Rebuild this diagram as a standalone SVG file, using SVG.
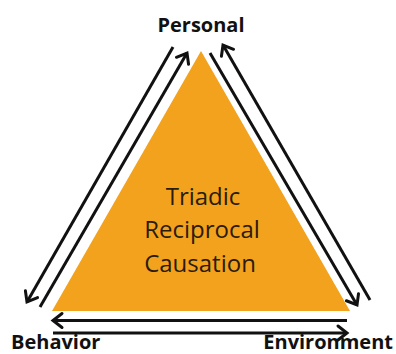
<svg xmlns="http://www.w3.org/2000/svg" width="396" height="354" viewBox="0 0 396 354">
  <defs>
    <marker id="arr" markerUnits="userSpaceOnUse" markerWidth="24" markerHeight="24" viewBox="-14 -12 20 24" refX="0" refY="0" orient="auto">
      <path d="M-9,-7 L0,0 L-9,7" fill="none" stroke="#111" stroke-width="3" stroke-linecap="round" stroke-linejoin="miter"/>
    </marker>
    <style>
      .lbl { font-family: "Open Sans", "Liberation Sans", sans-serif; font-weight: 700; font-size: 20px; fill: #111; }
      .mid { font-family: "Open Sans", "Liberation Sans", sans-serif; font-weight: 400; font-size: 24px; fill: #2a1c0c; text-anchor: middle; }
      .conn { stroke: #111; stroke-width: 3; fill: none; marker-end: url(#arr); }
    </style>
  </defs>
  <rect width="396" height="354" fill="#fff"/>
  <g id="triangle">
    <polygon points="201,51 52,311 350,311" fill="#F3A21D"/>
    <text class="mid" x="203" y="205">Triadic</text>
    <text class="mid" x="202" y="238">Reciprocal</text>
    <text class="mid" x="200" y="272">Causation</text>
  </g>
  <g id="personal">
    <text class="lbl" x="201" y="32" text-anchor="middle">Personal</text>
  </g>
  <g id="behavior">
    <text class="lbl" x="11" y="349">Behavior</text>
  </g>
  <g id="environment">
    <text class="lbl" x="393" y="349" text-anchor="end">Environment</text>
  </g>
  <g id="connectors">
    <line class="conn" x1="173" y1="47" x2="27" y2="302"/>
    <line class="conn" x1="40" y1="307" x2="187" y2="53"/>
    <line class="conn" x1="210" y1="53" x2="357" y2="305"/>
    <line class="conn" x1="370" y1="300" x2="223" y2="45"/>
    <line class="conn" x1="347" y1="320.5" x2="53" y2="320.5"/>
    <line class="conn" x1="53" y1="333" x2="347" y2="333"/>
  </g>
</svg>
